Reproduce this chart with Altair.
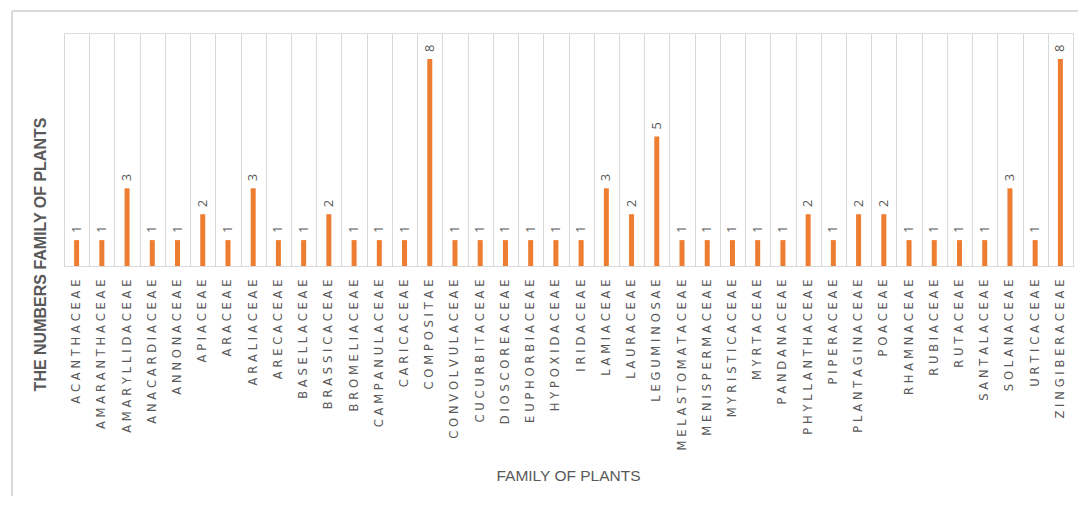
import altair as alt
import pandas as pd

families = [
    "ACANTHACEAE", "AMARANTHACEAE", "AMARYLLIDACEAE", "ANACARDIACEAE", "ANNONACEAE",
    "APIACEAE", "ARACEAE", "ARALIACEAE", "ARECACEAE", "BASELLACEAE",
    "BRASSICACEAE", "BROMELIACEAE", "CAMPANULACEAE", "CARICACEAE", "COMPOSITAE",
    "CONVOLVULACEAE", "CUCURBITACEAE", "DIOSCOREACEAE", "EUPHORBIACEAE", "HYPOXIDACEAE",
    "IRIDACEAE", "LAMIACEAE", "LAURACEAE", "LEGUMINOSAE", "MELASTOMATACEAE",
    "MENISPERMACEAE", "MYRISTICACEAE", "MYRTACEAE", "PANDANACEAE", "PHYLLANTHACEAE",
    "PIPERACEAE", "PLANTAGINACEAE", "POACEAE", "RHAMNACEAE", "RUBIACEAE",
    "RUTACEAE", "SANTALACEAE", "SOLANACEAE", "URTICACEAE", "ZINGIBERACEAE",
]
counts = [
    1, 1, 3, 1, 1,
    2, 1, 3, 1, 1,
    2, 1, 1, 1, 8,
    1, 1, 1, 1, 1,
    1, 3, 2, 5, 1,
    1, 1, 1, 1, 2,
    1, 2, 2, 1, 1,
    1, 1, 3, 1, 8,
]

df = pd.DataFrame({"family": families, "count": counts})

W, H = 1009, 233
GREY = "#595959"
LIGHT = "#d9d9d9"

base = alt.Chart(df).encode(
    x=alt.X(
        "family:N",
        sort=families,
        scale=alt.Scale(paddingInner=0, paddingOuter=0),
        axis=alt.Axis(
            title="FAMILY OF PLANTS",
            titleFont="Liberation Sans",
            titleFontSize=15.5,
            titleFontWeight="normal",
            titleColor=GREY,
            titleX=504,
            titleY=209,
            titleBaseline="middle",
            titleAlign="center",
            labelAngle=-90,
            labelAlign="right",
            labelBaseline="middle",
            labelPadding=13,
            labelFont="DejaVu Sans",
            labelFontSize=11.5,
            labelColor=GREY,
            labelExpr="join(split(datum.label, ''), '\u2004')",
            ticks=False,
            domainColor=LIGHT,
            grid=True,
            gridColor=LIGHT,
            gridWidth=1,
            tickBand="extent",
        ),
    ),
    y=alt.Y(
        "count:Q",
        scale=alt.Scale(domain=[0, 9], nice=False),
        axis=alt.Axis(
            title="THE NUMBERS FAMILY OF PLANTS",
            titleFont="Liberation Sans",
            titleFontSize=16,
            titleFontWeight="bold",
            titleColor=GREY,
            titleX=-24,
            titleY=221,
            titleBaseline="middle",
            titleAlign="center",
            labels=False,
            ticks=False,
            domain=False,
            grid=False,
        ),
    ),
)

bars = base.mark_bar(color="#ed7d31", size=5)
text = base.mark_text(
    angle=270, align="left", baseline="middle", dx=7,
    font="Open Sans", fontSize=13, color=GREY,
).encode(text="count:Q")

frame_top = alt.Chart(df).mark_rule(color=LIGHT, strokeWidth=1.5, clip=False).encode(
    x=alt.value(-52), x2=alt.value(W + 30), y=alt.value(-22)
)
frame_left = alt.Chart(df).mark_rule(color=LIGHT, strokeWidth=1.5, clip=False).encode(
    x=alt.value(-52), y=alt.value(-22), y2=alt.value(H + 250)
)

chart = (
    alt.layer(frame_top, frame_left, bars, text)
    .properties(
        width=W,
        height=H,
        autosize=alt.AutoSizeParams(type="none"),
        padding={"left": 56, "top": 25, "right": 5, "bottom": 230},
    )
    .configure_view(stroke=None)
    .configure(background="white")
)

chart.save("out.html", embed_options={"renderer": "svg", "actions": False})
